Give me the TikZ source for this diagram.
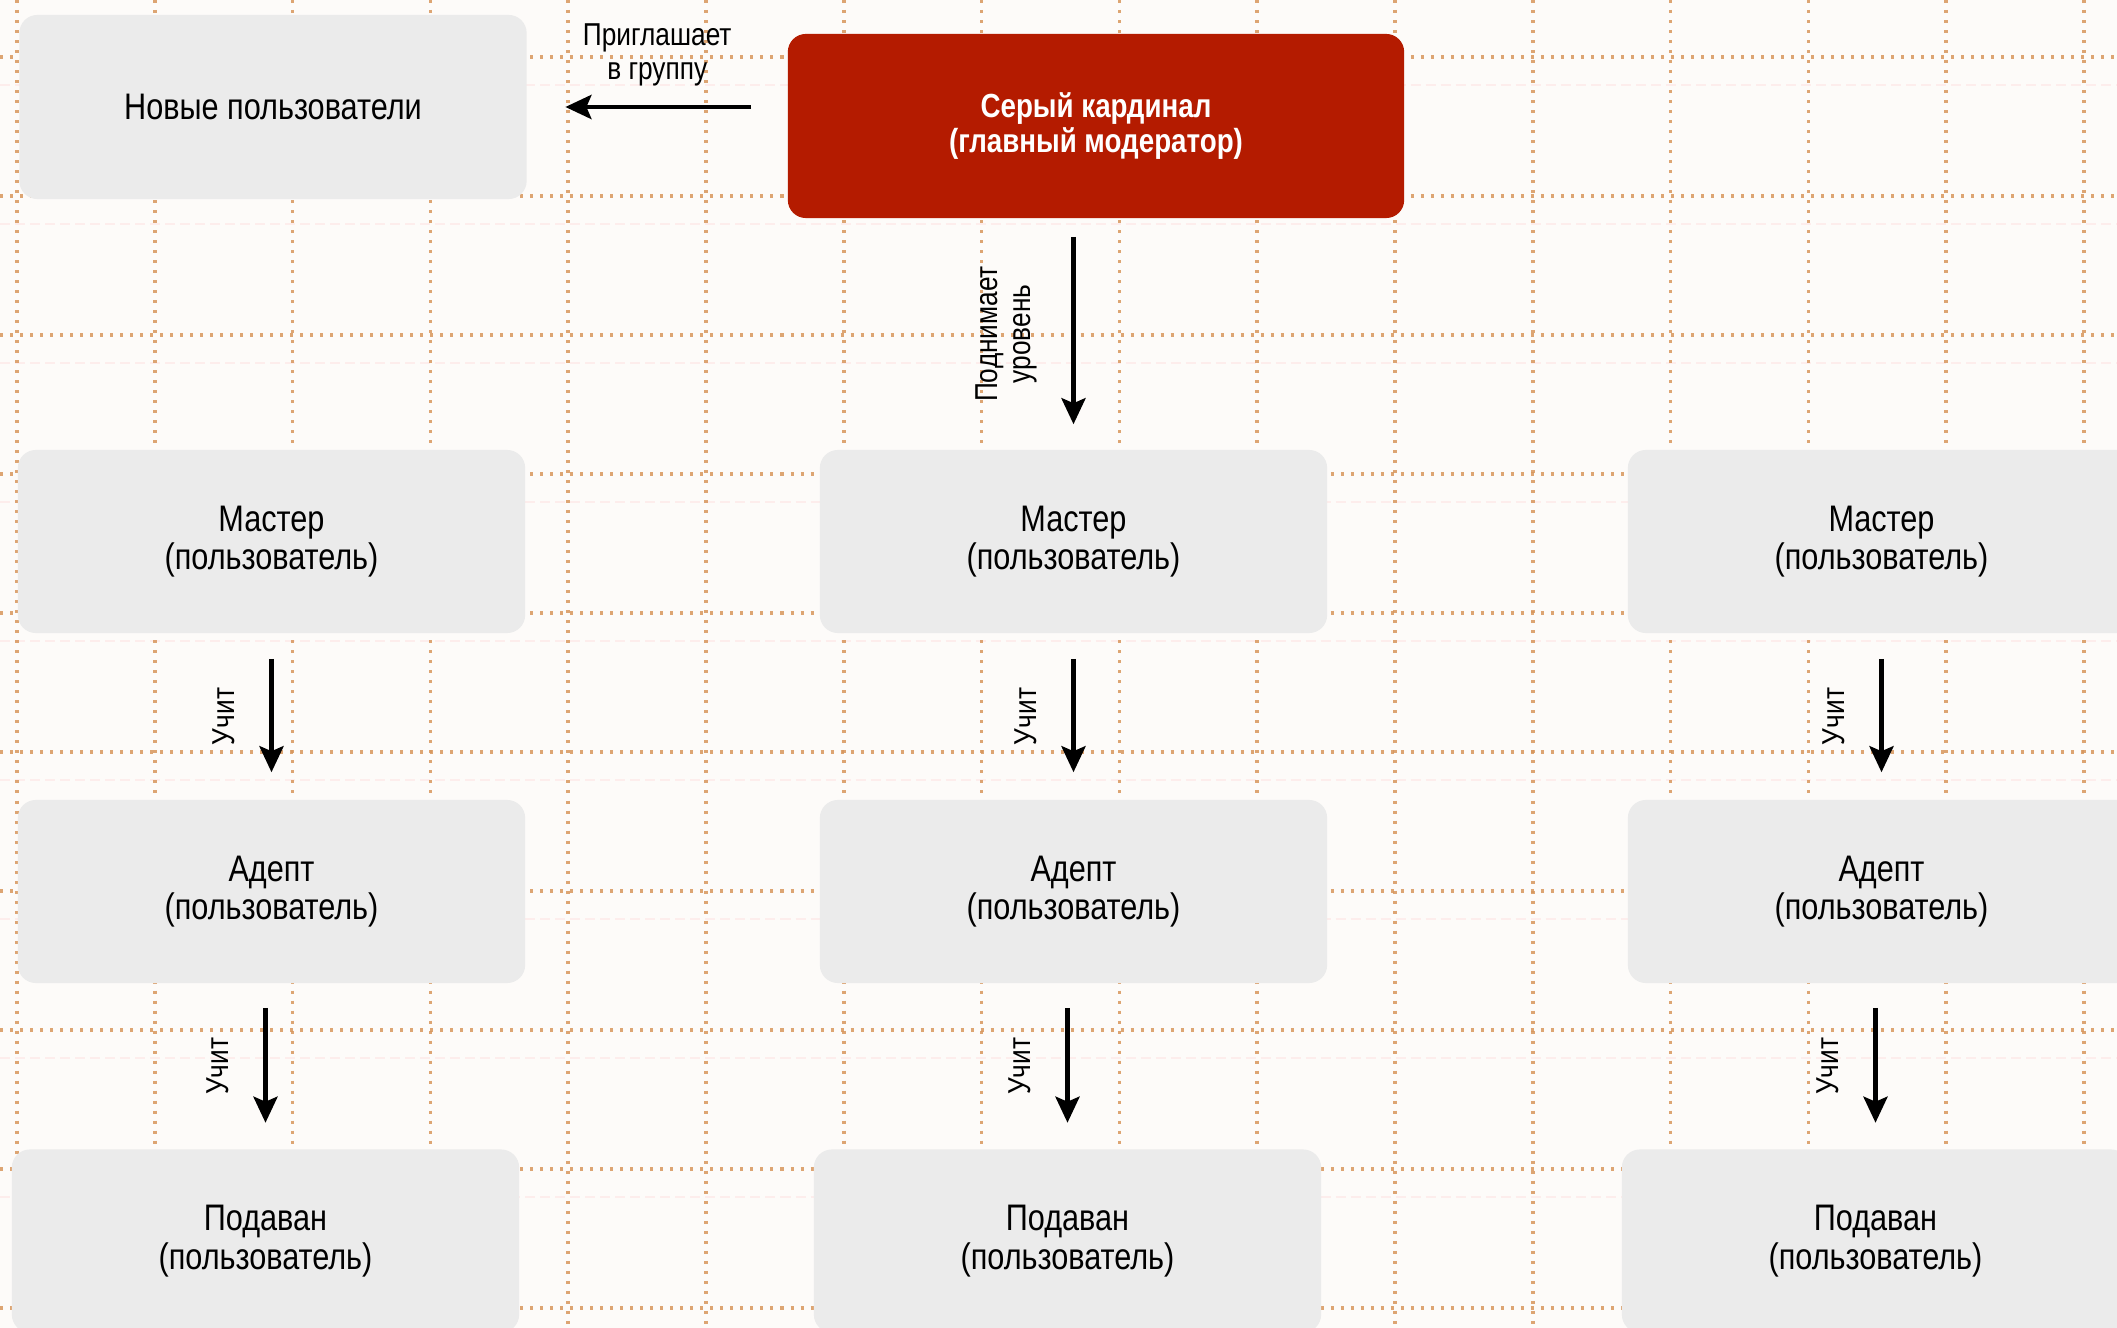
\documentclass[tikz,border=0pt]{standalone}
\usepackage{fontspec}
\setmainfont[FakeStretch=0.83]{Liberation Sans}
\usetikzlibrary{arrows.meta}
\definecolor{paper}{RGB}{253,251,249}
\definecolor{gridline}{RGB}{216,150,92}
\definecolor{boxgray}{RGB}{235,235,235}
\definecolor{cardred}{RGB}{180,27,0}

\begin{document}
\begin{tikzpicture}[x=0.01cm,y=-0.01cm,
    box/.style={fill=boxgray,rounded corners=0.18cm,minimum width=5.07cm,minimum height=1.83cm,
      align=center,font=\fontsize{10.5}{11}\selectfont},
    redbox/.style={box,fill=cardred,text=white,minimum width=6.16cm,minimum height=1.84cm,
      font=\fontsize{9.5}{9.8}\selectfont\bfseries},
    arr/.style={line width=1.3pt,-{Stealth[length=0.26cm,width=0.24cm,inset=0.05cm]}},
    lbl/.style={align=center,font=\fontsize{9}{9.5}\selectfont},
    dots/.style={gridline,opacity=0.85,line width=0.035cm,dash pattern=on 0.03cm off 0.07cm}]
  \clip (0,0) rectangle (2117,1328);
  \fill[paper] (0,0) rectangle (2117,1328);
  % squared paper
  \foreach \k in {0,...,9}
    \draw[red!30,opacity=0.18,line width=0.02cm,dash pattern=on 0.1cm off 0.05cm] (0,55+139*\k+30) -- (2117,55+139*\k+30);
  \foreach \k in {0,...,15}
    \draw[dots] (17+137.8*\k,0) -- (17+137.8*\k,1328);
  \foreach \k in {0,...,9}
    \draw[dots] (0,57+139*\k) -- (2117,57+139*\k);

  \node[box,minimum height=1.84cm] (new) at (273,107) {Новые пользователи};
  \node[redbox] (card) at (1096,126) {Серый кардинал\\(главный модератор)};

  \node[box] (m1) at (271.5,541.5) {Мастер\\(пользователь)};
  \node[box] (m2) at (1073.5,541.5) {Мастер\\(пользователь)};
  \node[box] (m3) at (1881.5,541.5) {Мастер\\(пользователь)};

  \node[box] (a1) at (271.5,891.5) {Адепт\\(пользователь)};
  \node[box] (a2) at (1073.5,891.5) {Адепт\\(пользователь)};
  \node[box] (a3) at (1881.5,891.5) {Адепт\\(пользователь)};

  \node[box] (p1) at (265.5,1241) {Подаван\\(пользователь)};
  \node[box] (p2) at (1067.5,1241) {Подаван\\(пользователь)};
  \node[box] (p3) at (1875.5,1241) {Подаван\\(пользователь)};

  \draw[arr,shorten <=0.36cm,shorten >=0.38cm] (card.west |- new.east) -- (new.east)
    node[midway,above=2pt,lbl]{Приглашает\\в группу};
  \draw[arr,shorten <=0.18cm,shorten >=0.25cm] (card.south -| m2.north) -- (m2.north)
    node[midway,xshift=-0.67cm,rotate=90,lbl]{Поднимает\\уровень};

  \draw[arr,shorten <=0.25cm,shorten >=0.27cm] (m1) -- (a1) node[midway,xshift=-0.48cm,rotate=90,lbl]{Учит};
  \draw[arr,shorten <=0.25cm,shorten >=0.27cm] (m2) -- (a2) node[midway,xshift=-0.48cm,rotate=90,lbl]{Учит};
  \draw[arr,shorten <=0.25cm,shorten >=0.27cm] (m3) -- (a3) node[midway,xshift=-0.48cm,rotate=90,lbl]{Учит};

  \draw[arr,shorten <=0.24cm,shorten >=0.26cm] (a1.south -| p1.north) -- (p1.north) node[midway,xshift=-0.48cm,rotate=90,lbl]{Учит};
  \draw[arr,shorten <=0.24cm,shorten >=0.26cm] (a2.south -| p2.north) -- (p2.north) node[midway,xshift=-0.48cm,rotate=90,lbl]{Учит};
  \draw[arr,shorten <=0.24cm,shorten >=0.26cm] (a3.south -| p3.north) -- (p3.north) node[midway,xshift=-0.48cm,rotate=90,lbl]{Учит};
\end{tikzpicture}
\end{document}
